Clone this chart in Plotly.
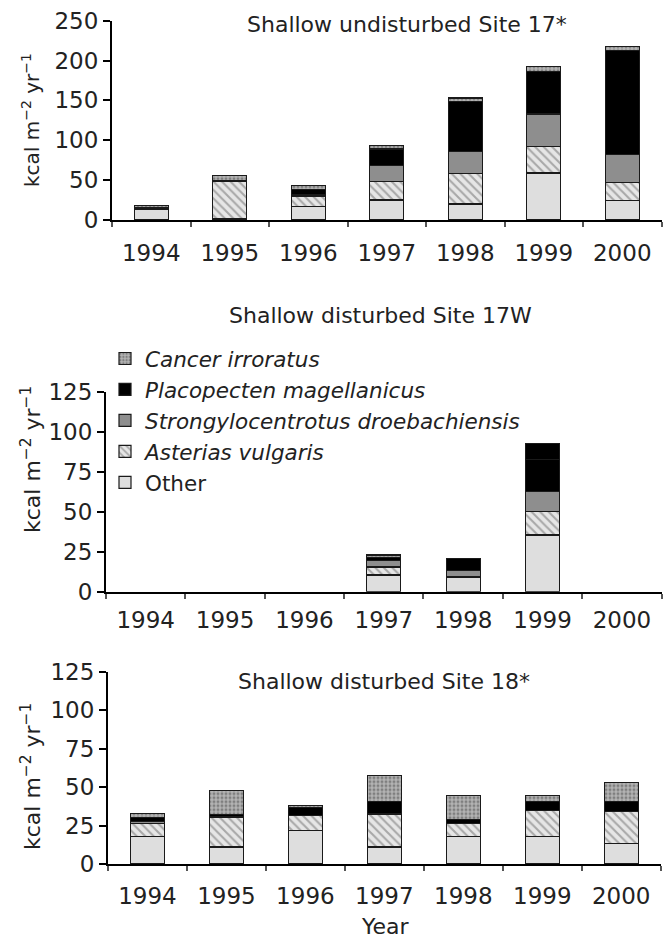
import plotly.graph_objects as go

# ---------------- data ----------------
years = ["1994", "1995", "1996", "1997", "1998", "1999", "2000"]

# Shallow undisturbed Site 17*
s17_other = [13, 2, 17, 25, 20, 59, 24]
s17_asterias = [0, 46, 13, 23, 38, 33, 23]
s17_strongylo = [1, 2, 2, 20, 28, 41, 35]
s17_placopecten = [1, 0, 6, 21, 63, 53, 131]
s17_cancer = [3, 6, 5, 4, 4, 7, 5]

# Shallow disturbed Site 17W
s17w_other = [None, None, None, 10.5, 9, 35.5, None]
s17w_asterias = [None, None, None, 5, 0.5, 14.5, None]
s17w_strongylo = [None, None, None, 4, 4, 12.5, None]
s17w_placopecten = [None, None, None, 2, 7.5, 20, None]
s17w_cancer = [None, None, None, 1.5, 0, 10, None]

# Shallow disturbed Site 18*
s18_other = [18, 11, 22, 11, 18, 18, 13.5]
s18_asterias = [8.5, 19, 9.5, 21.5, 8.5, 17, 20.5]
s18_strongylo = [1, 1, 0, 0, 0, 0, 0]
s18_placopecten = [2.5, 1, 5, 8, 2.5, 5.5, 6.5]
s18_cancer = [3, 16, 1.5, 17, 15.5, 4, 12.5]

species = ["Other", "<i>Asterias vulgaris</i>", "<i>Strongylocentrotus droebachiensis</i>",
           "<i>Placopecten magellanicus</i>", "<i>Cancer irroratus</i>"]

# ---------------- styles ----------------
W, H = 665, 938
def fx(p):
    return p / W
def fy(p):
    return 1 - p / H

LINE = dict(color="#1a1a1a", width=1.2)
styles = [
    dict(color="#dedede", line=LINE),
    dict(color="#e6e6e6", line=LINE,
         pattern=dict(shape="\\", fgcolor="#6a6a6a", bgcolor="#e6e6e6", size=6, solidity=0.35)),
    dict(color="#8e8e8e", line=LINE),
    dict(color="#000000", line=LINE),
    dict(color="#a8a8a8", line=LINE,
         pattern=dict(shape=".", fgcolor="#4a4a4a", bgcolor="#b4b4b4", size=4, solidity=0.45)),
]

panels = [
    ("x", "y", [s17_other, s17_asterias, s17_strongylo, s17_placopecten, s17_cancer], True),
    ("x2", "y2", [s17w_other, s17w_asterias, s17w_strongylo, s17w_placopecten, s17w_cancer], False),
    ("x3", "y3", [s18_other, s18_asterias, s18_strongylo, s18_placopecten, s18_cancer], False),
]

fig = go.Figure()
for xa, ya, series, show in panels:
    for i, (name, vals) in enumerate(zip(species, series)):
        marker = dict(styles[i])
        if xa == "x2" and i == 4:
            # top segment of 1999 at Site 17W is drawn solid black in the original
            cols = ["#000000" if (y == "1999") else "#a8a8a8" for y in years]
            shapes = ["" if (y == "1999") else "." for y in years]
            marker = dict(color=cols, line=LINE,
                          pattern=dict(shape=shapes, fgcolor="#4a4a4a", size=4, solidity=0.45))
        fig.add_trace(go.Bar(x=years, y=vals, name=name, marker=marker,
                             xaxis=xa, yaxis=ya, showlegend=show, legendgroup=name,
                             hoverinfo="skip"))

xcommon = dict(type="category", showline=True, linecolor="black", linewidth=2,
               ticks="outside", tickson="boundaries", ticklen=5, tickwidth=2,
               tickcolor="#555", showgrid=False, zeroline=False,
               tickfont=dict(size=23, color="#222"), range=[-0.5, 6.5], fixedrange=True)
ycommon = dict(showline=True, linecolor="black", linewidth=2, ticks="outside",
               ticklen=7, tickwidth=2, tickcolor="black", showgrid=False,
               zeroline=False, tickfont=dict(size=23, color="#222"), fixedrange=True)

fig.update_layout(
    width=W, height=H,
    margin=dict(l=0, r=0, t=0, b=0, autoexpand=False),
    paper_bgcolor="white", plot_bgcolor="white",
    barmode="stack", bargap=0.57,
    font=dict(family="DejaVu Sans", size=22, color="#222"),
    showlegend=True,
    legend=dict(x=fx(105), y=fy(338), xanchor="left", yanchor="top",
                traceorder="reversed", font=dict(size=21.5, color="#222"),
                bgcolor="rgba(0,0,0,0)", itemclick=False, itemdoubleclick=False),
    xaxis=dict(xcommon, domain=[fx(112), fx(661.5)], anchor="y", ticklabelstandoff=11),
    yaxis=dict(ycommon, domain=[fy(220), fy(20.7)], anchor="x", range=[0, 250],
               tickvals=[0, 50, 100, 150, 200, 250]),
    xaxis2=dict(xcommon, domain=[fx(106), fx(661.6)], anchor="y2", ticklabelstandoff=7),
    yaxis2=dict(ycommon, domain=[fy(591.7), fy(391.7)], anchor="x2", range=[0, 125],
                tickvals=[0, 25, 50, 75, 100, 125]),
    xaxis3=dict(xcommon, domain=[fx(108), fx(660.7)], anchor="y3", ticklabelstandoff=10),
    yaxis3=dict(ycommon, domain=[fy(864), fy(671.7)], anchor="x3", range=[0, 125],
                tickvals=[0, 25, 50, 75, 100, 125]),
)

ytitle = "kcal m<sup>\u22122</sup> yr<sup>\u22121</sup>"
annotations = [
    dict(text="Shallow undisturbed Site 17*", x=fx(407), y=fy(25), size=22),
    dict(text="Shallow disturbed Site 17W", x=fx(380), y=fy(315), size=22),
    dict(text="Shallow disturbed Site 18*", x=fx(384), y=fy(681), size=22),
    dict(text="Year", x=fx(385), y=fy(926), size=22),
]
for a in annotations:
    fig.add_annotation(text=a["text"], x=a["x"], y=a["y"], xref="paper", yref="paper",
                       xanchor="center", yanchor="middle", showarrow=False,
                       font=dict(size=a["size"], color="#222"))
for yc, sz in [(120, 20), (460, 22), (777, 22)]:
    fig.add_annotation(text=ytitle, x=fx(31), y=fy(yc), xref="paper", yref="paper",
                       xanchor="center", yanchor="middle", showarrow=False, textangle=-90,
                       font=dict(size=sz, color="#222"))

fig.write_html("out.html", config={"displayModeBar": False, "staticPlot": True},
               post_script="document.body.style.margin='0';document.body.style.overflow='hidden';")
